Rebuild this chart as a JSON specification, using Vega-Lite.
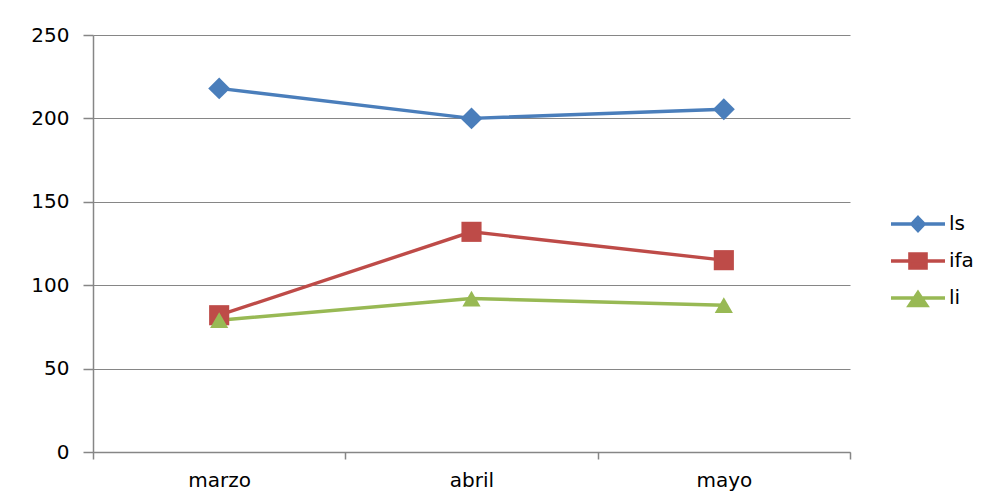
{
  "$schema": "https://vega.github.io/schema/vega-lite/v6.json",
  "autosize": {"type": "none"},
  "padding": {"left": 93, "top": 35, "right": 137, "bottom": 48},
  "width": 757,
  "height": 417,
  "background": "white",
  "config": {
    "view": {"stroke": null},
    "font": "DejaVu Sans",
    "axis": {
      "labelFont": "DejaVu Sans",
      "labelFontSize": 20,
      "labelColor": "#000000",
      "domainColor": "#868686",
      "tickColor": "#868686",
      "gridColor": "#868686",
      "domainWidth": 1.5,
      "tickWidth": 1.5,
      "gridWidth": 1
    }
  },
  "data": {
    "values": [
      {"mes": "marzo", "serie": "ls", "valor": 218},
      {"mes": "abril", "serie": "ls", "valor": 200},
      {"mes": "mayo", "serie": "ls", "valor": 205.5},
      {"mes": "marzo", "serie": "ifa", "valor": 82},
      {"mes": "abril", "serie": "ifa", "valor": 132},
      {"mes": "mayo", "serie": "ifa", "valor": 115},
      {"mes": "marzo", "serie": "li", "valor": 79},
      {"mes": "abril", "serie": "li", "valor": 92},
      {"mes": "mayo", "serie": "li", "valor": 88}
    ]
  },
  "encoding": {
    "x": {
      "field": "mes",
      "type": "nominal",
      "sort": ["marzo", "abril", "mayo"],
      "bandPosition": 0.5,
      "scale": {"type": "band", "paddingInner": 0, "paddingOuter": 0},
      "axis": {
        "title": null,
        "labelAngle": 0,
        "tickBand": "extent",
        "tickSize": 7,
        "labelPadding": 11,
        "grid": false
      }
    },
    "y": {
      "field": "valor",
      "type": "quantitative",
      "scale": {"domain": [0, 250], "nice": false, "zero": true},
      "axis": {
        "title": null,
        "values": [0, 50, 100, 150, 200, 250],
        "tickSize": 10,
        "labelPadding": 14,
        "grid": true
      }
    }
  },
  "resolve": {"scale": {"color": "independent", "shape": "independent", "size": "independent"}, "legend": {"color": "independent"}},
  "layer": [
    {
      "mark": {"type": "line", "strokeWidth": 3.4},
      "encoding": {
        "color": {
          "field": "serie",
          "type": "nominal",
          "sort": ["ls", "ifa", "li"],
          "scale": {"domain": ["ls", "ifa", "li"], "range": ["#4A7EBB", "#BE4B48", "#98B954"]},
          "legend": {
            "title": null,
            "orient": "none",
            "legendX": 808,
            "legendY": 172,
            "symbolSize": 900,
            "symbolStrokeWidth": 3.4,
            "labelFont": "DejaVu Sans",
            "labelFontSize": 20,
            "labelColor": "#000000",
            "labelOffset": 14,
            "rowPadding": 6,
            "encode": {
              "symbols": {
                "update": {
                  "shape": {"signal": "datum.value === 'ls' ? 'M-1.8,0L1.8,0M0,-0.43L0.41,0L0,0.43L-0.41,0Z' : datum.value === 'ifa' ? 'M-1.8,0L1.8,0M-0.54,-0.47L0.54,-0.47L0.54,0.47L-0.54,0.47Z' : 'M-1.8,0L1.8,0M0,-0.36L0.58,0.5L-0.58,0.5Z'"},
                  "fill": {"signal": "datum.value === 'ls' ? '#4A7EBB' : datum.value === 'ifa' ? '#BE4B48' : '#98B954'"},
                  "stroke": {"signal": "datum.value === 'ls' ? '#4A7EBB' : datum.value === 'ifa' ? '#BE4B48' : '#98B954'"},
                  "strokeWidth": {"value": 3.4}
                }
              }
            }
          }
        }
      }
    },
    {
      "mark": {"type": "point", "filled": true, "opacity": 1},
      "encoding": {
        "shape": {
          "field": "serie",
          "type": "nominal",
          "scale": {"domain": ["ls", "ifa", "li"], "range": ["diamond", "square", "triangle-up"]},
          "legend": null
        },
        "size": {
          "field": "serie",
          "type": "nominal",
          "scale": {"domain": ["ls", "ifa", "li"], "range": [480, 330, 330]},
          "legend": null
        },
        "color": {
          "field": "serie",
          "type": "nominal",
          "scale": {"domain": ["ls", "ifa", "li"], "range": ["#4A7EBB", "#BE4B48", "#98B954"]},
          "legend": null
        }
      }
    }
  ]
}
